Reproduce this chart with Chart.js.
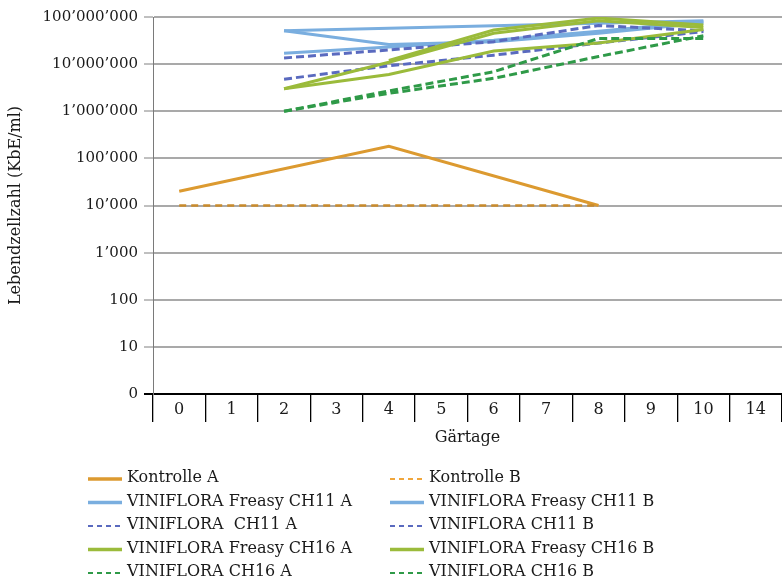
<!DOCTYPE html>
<html><head><meta charset="utf-8">
<script src="https://cdn.jsdelivr.net/npm/chart.js@4.4.1/dist/chart.umd.min.js"></script>
<style>html,body{margin:0;padding:0;background:#fff}#wrap{position:relative;width:782px;height:582px}</style>
</head><body><div id="wrap"><canvas id="c" width="782" height="582" style="width:782px;height:582px"></canvas></div>
<script>
const categories = ['0','1','2','3','4','5','6','7','8','9','10','14'];
const yTickValues = [1, 10, 100, 1000, 10000, 100000, 1000000, 10000000, 100000000];
const yTickLabels = ['0','10','100','1’000','10’000','100’000','1’000’000','10’000’000','100’000’000'];

const kontrolleA        = [20000, null, null, null, 180000, null, null, null, 10000, null, null, null];
const kontrolleB        = [10000, null, null, null, 10000, null, null, null, 10000, null, null, null];
const freasyCH11A       = [null, null, 51000000, null, 26000000, null, 30000000, null, 45000000, null, 75000000, null];
const freasyCH11B       = [null, null, 17000000, null, 23000000, null, 32000000, null, 50000000, null, 80000000, null];
const viniCH11A         = [null, null, 13500000, null, 20000000, null, 30000000, null, 66000000, null, 51000000, null];
const viniCH11B         = [null, null, 4800000, null, 9200000, null, 15500000, null, 28000000, null, 49000000, null];
const freasyCH16A       = [null, null, 3000000, null, 11000000, null, 45000000, null, 83000000, null, 60000000, null];
const freasyCH16B       = [null, null, 3000000, null, 6000000, null, 19000000, null, 28000000, null, 54000000, null];
const viniCH16A         = [null, null, 1000000, null, 2700000, null, 6900000, null, 35000000, null, 35000000, null];
const viniCH16B         = [null, null, 1000000, null, 2400000, null, 5000000, null, 14500000, null, 40000000, null];
// additional unlabelled series visible in the plot (no legend entry)
const extraLightBlue    = [null, null, 51000000, null, null, null, null, null, null, null, 83000000, null];
const extraGreen        = [null, null, null, null, 12000000, null, 53000000, null, 95000000, null, 68000000, null];

const seriesLabels = ['Kontrolle A','Kontrolle B','VINIFLORA Freasy CH11 A','VINIFLORA Freasy CH11 B','VINIFLORA  CH11 A','VINIFLORA CH11 B','VINIFLORA Freasy CH16 A','VINIFLORA Freasy CH16 B','VINIFLORA CH16 A','VINIFLORA CH16 B'];
const seriesData = [kontrolleA, kontrolleB, freasyCH11A, freasyCH11B, viniCH11A, viniCH11B, freasyCH16A, freasyCH16B, viniCH16A, viniCH16B];

const ORANGE = '#dc9a30', ORANGE_D = '#c98b2c', ORANGE_L = '#f0a63c';
const LBLUE = '#7aaedf', BLUE = '#5a6abf', OLIVE = '#9bbb3b', GREEN = '#2f9a48';
const styles = [
  {c: ORANGE, dash: [], w: 3, lc: ORANGE},
  {c: ORANGE_D, dash: [7,5], w: 2.5, lc: ORANGE_L},
  {c: LBLUE, dash: [], w: 3, lc: LBLUE},
  {c: LBLUE, dash: [], w: 3, lc: LBLUE},
  {c: BLUE, dash: [8,4], w: 3, lc: BLUE},
  {c: BLUE, dash: [8,4], w: 3, lc: BLUE},
  {c: OLIVE, dash: [], w: 3, lc: OLIVE},
  {c: OLIVE, dash: [], w: 3, lc: OLIVE},
  {c: GREEN, dash: [8,4], w: 3, lc: GREEN},
  {c: GREEN, dash: [8,4], w: 3, lc: GREEN}
];

const FONT = 'DejaVu Serif';
const FS = 16;
const datasets = seriesData.map((d, i) => ({
  label: seriesLabels[i], data: d, borderColor: styles[i].c, backgroundColor: styles[i].c,
  borderWidth: styles[i].w, borderDash: styles[i].dash, pointRadius: 0, spanGaps: true,
  tension: 0, fill: false, order: 20 - i
}));
datasets.push({label: '', data: extraLightBlue, borderColor: LBLUE, borderWidth: 3, pointRadius: 0, spanGaps: true, fill: false, order: 17});
datasets.push({label: '', data: extraGreen, borderColor: OLIVE, borderWidth: 3, pointRadius: 0, spanGaps: true, fill: false, order: 13});

const legendPlugin = {
  id: 'customLegend',
  afterDraw(chart) {
    const ctx = chart.ctx;
    ctx.save();
    ctx.font = FS + 'px "' + FONT + '"';
    ctx.fillStyle = '#1a1a1a';
    ctx.textBaseline = 'middle';
    ctx.textAlign = 'left';
    for (let i = 0; i < seriesLabels.length; i++) {
      const col = i % 2, row = Math.floor(i / 2);
      const x0 = col ? 390 : 88;
      const y = 478 + row * 23.5;
      const st = styles[i];
      ctx.beginPath();
      ctx.strokeStyle = st.lc;
      if (st.dash.length) { ctx.lineWidth = 2; ctx.setLineDash([5, 4]); }
      else { ctx.lineWidth = 3.5; ctx.setLineDash([]); }
      ctx.moveTo(x0, y + 1); ctx.lineTo(x0 + 34, y + 1); ctx.stroke();
      ctx.setLineDash([]);
      ctx.fillText(seriesLabels[i], x0 + 39, y);
    }
    ctx.restore();
  }
};

new Chart(document.getElementById('c'), {
  type: 'line',
  data: { labels: categories, datasets: datasets },
  plugins: [legendPlugin],
  options: {
    responsive: false, animation: false, devicePixelRatio: 1,
    layout: { padding: { top: 17, left: 0, right: 0, bottom: 0 } },
    plugins: { legend: { display: false }, tooltip: { enabled: false } },
    scales: {
      x: {
        type: 'category', offset: true,
        grid: { offset: true, drawOnChartArea: false, drawTicks: true, tickLength: 28, color: '#000', lineWidth: 1.3 },
        border: { display: true, color: '#000', width: 2 },
        ticks: { padding: -22, autoSkip: false, maxRotation: 0, color: '#1a1a1a', font: { family: FONT, size: FS } },
        title: { display: true, text: 'Gärtage', color: '#1a1a1a', font: { family: FONT, size: FS }, padding: { top: 0, bottom: 135 } },
        afterFit: s => { s.height = 188; }
      },
      y: {
        type: 'logarithmic', min: 1, max: 100000000,
        afterBuildTicks: s => { s.ticks = yTickValues.map(v => ({ value: v })); },
        ticks: {
          autoSkip: false, padding: 6, color: '#1a1a1a', font: { family: FONT, size: 15 },
          callback: (v) => { const k = yTickValues.indexOf(v); return k >= 0 ? yTickLabels[k] : ''; }
        },
        grid: {
          color: c => (c.tick && c.tick.value === 1) ? '#000' : '#a9a9a9',
          lineWidth: 2, tickLength: 9,
          tickColor: c => (c.tick && c.tick.value === 1) ? '#000' : '#808080',
          tickWidth: c => (c.tick && c.tick.value === 1) ? 2 : 1
        },
        border: { display: true, color: '#7a7a7a', width: 1 },
        title: { display: true, text: 'Lebendzellzahl (KbE/ml)', color: '#1a1a1a', font: { family: FONT, size: FS }, padding: { top: 6, bottom: 0 } },
        afterFit: s => { s.width = 153; }
      }
    }
  }
});
</script>
</body></html>
